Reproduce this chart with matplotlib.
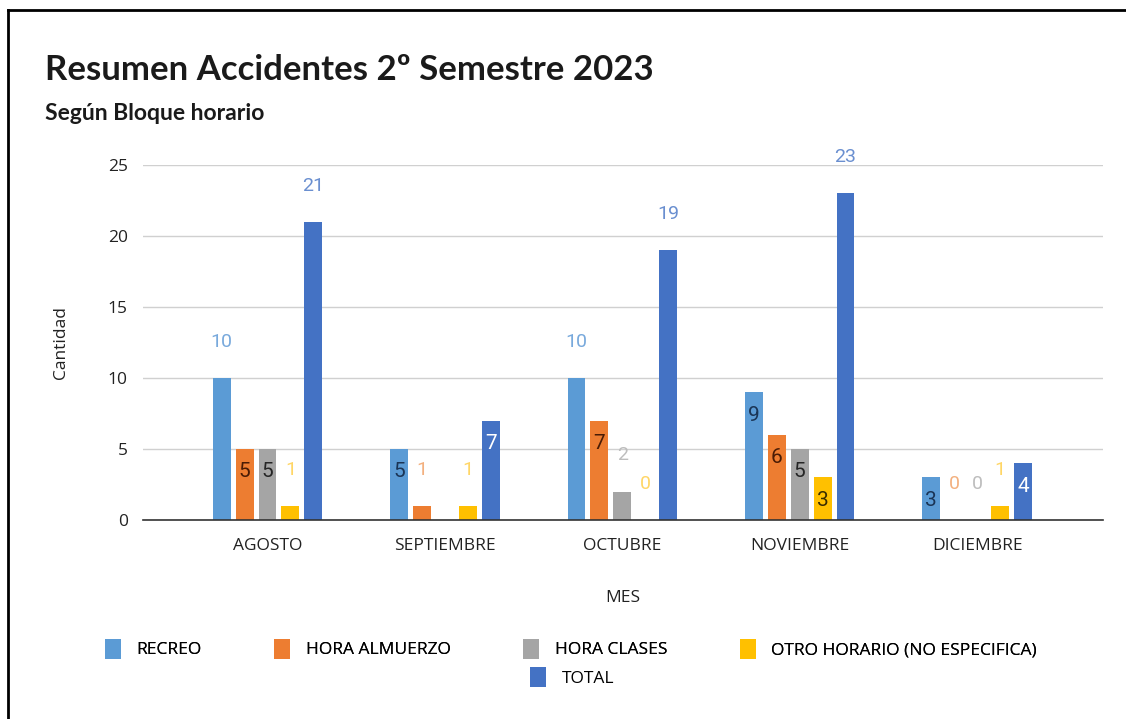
import numpy as np
import matplotlib.pyplot as plt
from matplotlib.patches import Patch
from matplotlib.lines import Line2D

meses = ['AGOSTO', 'SEPTIEMBRE', 'OCTUBRE', 'NOVIEMBRE', 'DICIEMBRE']
recreo = [10, 5, 10, 9, 3]
hora_almuerzo = [5, 1, 7, 6, 0]
hora_clases = [5, None, 2, 5, 0]
otro_horario = [1, 1, 0, 3, 1]
total = [21, 7, 19, 23, 4]
series_names = ['RECREO', 'HORA ALMUERZO', 'HORA CLASES',
                'OTRO HORARIO (NO ESPECIFICA)', 'TOTAL']

series = [recreo, hora_almuerzo, hora_clases, otro_horario, total]
bar_colors = ['#5b9bd5', '#ed7d31', '#a5a5a5', '#ffc000', '#4472c4']
out_colors = ['#78a9dc', '#f3b07f', '#bdbdbd', '#ffd666', '#6a8fd0']
in_colors = ['#1b3556', '#4a1c05', '#262626', '#3a2d00', '#ffffff']

plt.rcParams['font.family'] = ['Open Sans', 'DejaVu Sans']

fig = plt.figure(figsize=(11.26, 7.19), dpi=100)
ax = fig.add_axes([0.127, 0.2768, 0.8526, 0.4937])

x = np.arange(len(meses))
pitch = 0.129
width = 0.101
for i, (vals, name) in enumerate(zip(series, series_names)):
    xs = x + (i - 2) * pitch
    for xi, v in zip(xs, vals):
        if v is None:
            continue
        ax.bar(xi, v, width, color=bar_colors[i], zorder=3)
        if 3 <= v < 10:
            ax.text(xi, v - 1.62, str(v), ha='center', va='center',
                    fontsize=15, color=in_colors[i], family='Roboto', zorder=4)
        else:
            ax.text(xi, v + 2.55, str(v), ha='center', va='center',
                    fontsize=14, color=out_colors[i], family='Roboto',
                    clip_on=False, zorder=4)

ax.set_xlim(-0.702, 4.71)
ax.set_ylim(0, 25)
ax.set_yticks([0, 5, 10, 15, 20, 25])
ax.set_xticks(x)
ax.set_xticklabels(meses)
ax.tick_params(axis='both', length=0, labelsize=12.5, colors='#222222')
ax.tick_params(axis='x', pad=13)
ax.tick_params(axis='y', pad=11)
ax.grid(axis='y', color='#d0d0d0', linewidth=1, zorder=0)
for s in ['top', 'right', 'left']:
    ax.spines[s].set_visible(False)
ax.spines['bottom'].set_color('#333333')
ax.spines['bottom'].set_linewidth(1.2)
ax.spines['bottom'].set_zorder(5)

ax.set_ylabel('Cantidad', fontsize=12.5, labelpad=28, color='#222222')
ax.set_xlabel('MES', fontsize=12.5, labelpad=26, color='#222222')

fig.text(0.04, 0.902, 'Resumen Accidentes 2º Semestre 2023', fontsize=25,
         fontweight='bold', family='Lato', va='center', color='#1a1a1a')
fig.text(0.04, 0.842, 'Según Bloque horario', fontsize=16.5,
         fontweight='bold', family='Lato', va='center', color='#1a1a1a')

handles = [Patch(facecolor=c, label=n) for c, n in zip(bar_colors, series_names)]
leg1 = fig.legend(handles=handles[:4], loc='center', ncol=4,
                  bbox_to_anchor=(0.507, 0.098), frameon=False, fontsize=12.5,
                  handlelength=0.9, handleheight=1.4, columnspacing=4.2,
                  handletextpad=0.9)
fig.add_artist(leg1)
fig.legend(handles=handles[4:], loc='center', ncol=1,
           bbox_to_anchor=(0.508, 0.058), frameon=False, fontsize=12.5,
           handlelength=0.9, handleheight=1.4, handletextpad=0.9)

# page frame
fig.add_artist(Line2D([0.0075, 1.0], [0.986, 0.986], color='black', linewidth=2))
fig.add_artist(Line2D([0.0075, 0.0075], [0.0, 0.986], color='black', linewidth=2))

fig.savefig('out.png', dpi=100)
